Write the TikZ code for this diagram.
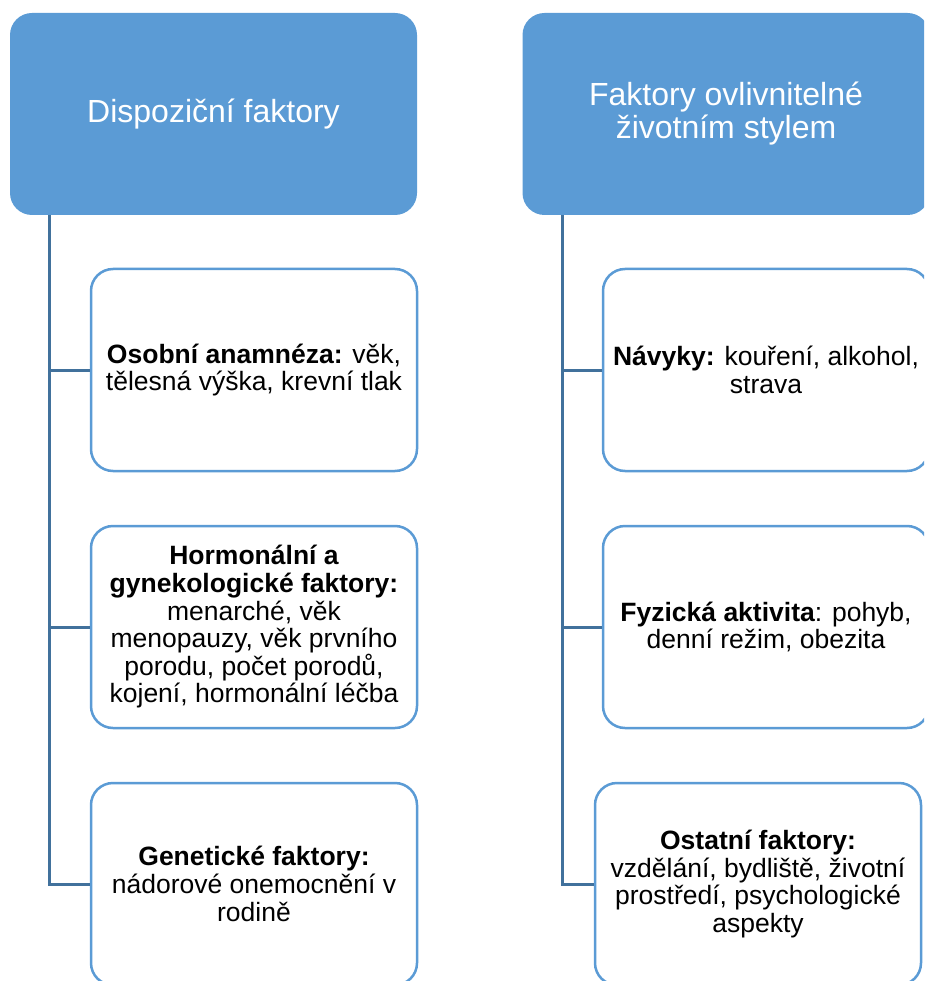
\documentclass[tikz,border=0pt]{standalone}
\usepackage{fontspec}
\setmainfont{Liberation Sans}
\usetikzlibrary{positioning}
\definecolor{headblue}{RGB}{91,155,213}
\definecolor{linkblue}{RGB}{65,113,156}

\tikzset{
  headbox/.style={fill=headblue,rounded corners=22pt,minimum width=407pt,minimum height=202pt,
    inner sep=0pt,align=center,text=white,font=\fontsize{32}{33}\selectfont},
  itembox/.style={draw=headblue,line width=2.5pt,fill=white,rounded corners=22pt,
    minimum width=326pt,minimum height=202pt,inner sep=0pt,align=center,
    font=\fontsize{26.5}{27.6}\selectfont},
  link/.style={draw=linkblue,line width=3pt}
}

\begin{document}
\begin{tikzpicture}[x=1pt,y=-1pt]
\clip (0,0) rectangle (924,981);
\useasboundingbox (0,0) rectangle (924,981);
% headers
\node[headbox] (dispo) at (213.5,114) {Dispoziční faktory};
\node[headbox] (styl) at (726,114) {Faktory ovlivnitelné\\ životním stylem};
% left column
\node[itembox] (osobni) at (254,370) {{\bfseries Osobní anamnéza:} věk,\\ tělesná výška, krevní tlak};
\node[itembox] (hormon) at (254,627) {{\bfseries Hormonální a}\\ {\bfseries gynekologické faktory:}\\ menarché, věk\\ menopauzy, věk prvního\\ porodu, počet porodů,\\ kojení, hormonální léčba};
\node[itembox] (genet) at (254,884) {{\bfseries Genetické faktory:}\\ nádorové onemocnění v\\ rodině};
% right column
\node[itembox] (navyky) at (766,370) {{\bfseries Návyky:} kouření, alkohol,\\ strava};
\node[itembox] (fyz) at (766,627) {{\bfseries Fyzická aktivita}: pohyb,\\ denní režim, obezita};
\node[itembox] (ostatni) at (758,884) {{\bfseries Ostatní faktory:}\\ vzdělání, bydliště, životní\\ prostředí, psychologické\\ aspekty};
% connectors
\coordinate (lstem) at (49,0);
\coordinate (rstem) at (562,0);
\draw[link] (dispo.south -| lstem) |- (genet.west);
\draw[link] (osobni.west -| lstem) -- (osobni.west);
\draw[link] (hormon.west -| lstem) -- (hormon.west);
\draw[link] (styl.south -| rstem) |- (ostatni.west);
\draw[link] (navyky.west -| rstem) -- (navyky.west);
\draw[link] (fyz.west -| rstem) -- (fyz.west);
\end{tikzpicture}
\end{document}
